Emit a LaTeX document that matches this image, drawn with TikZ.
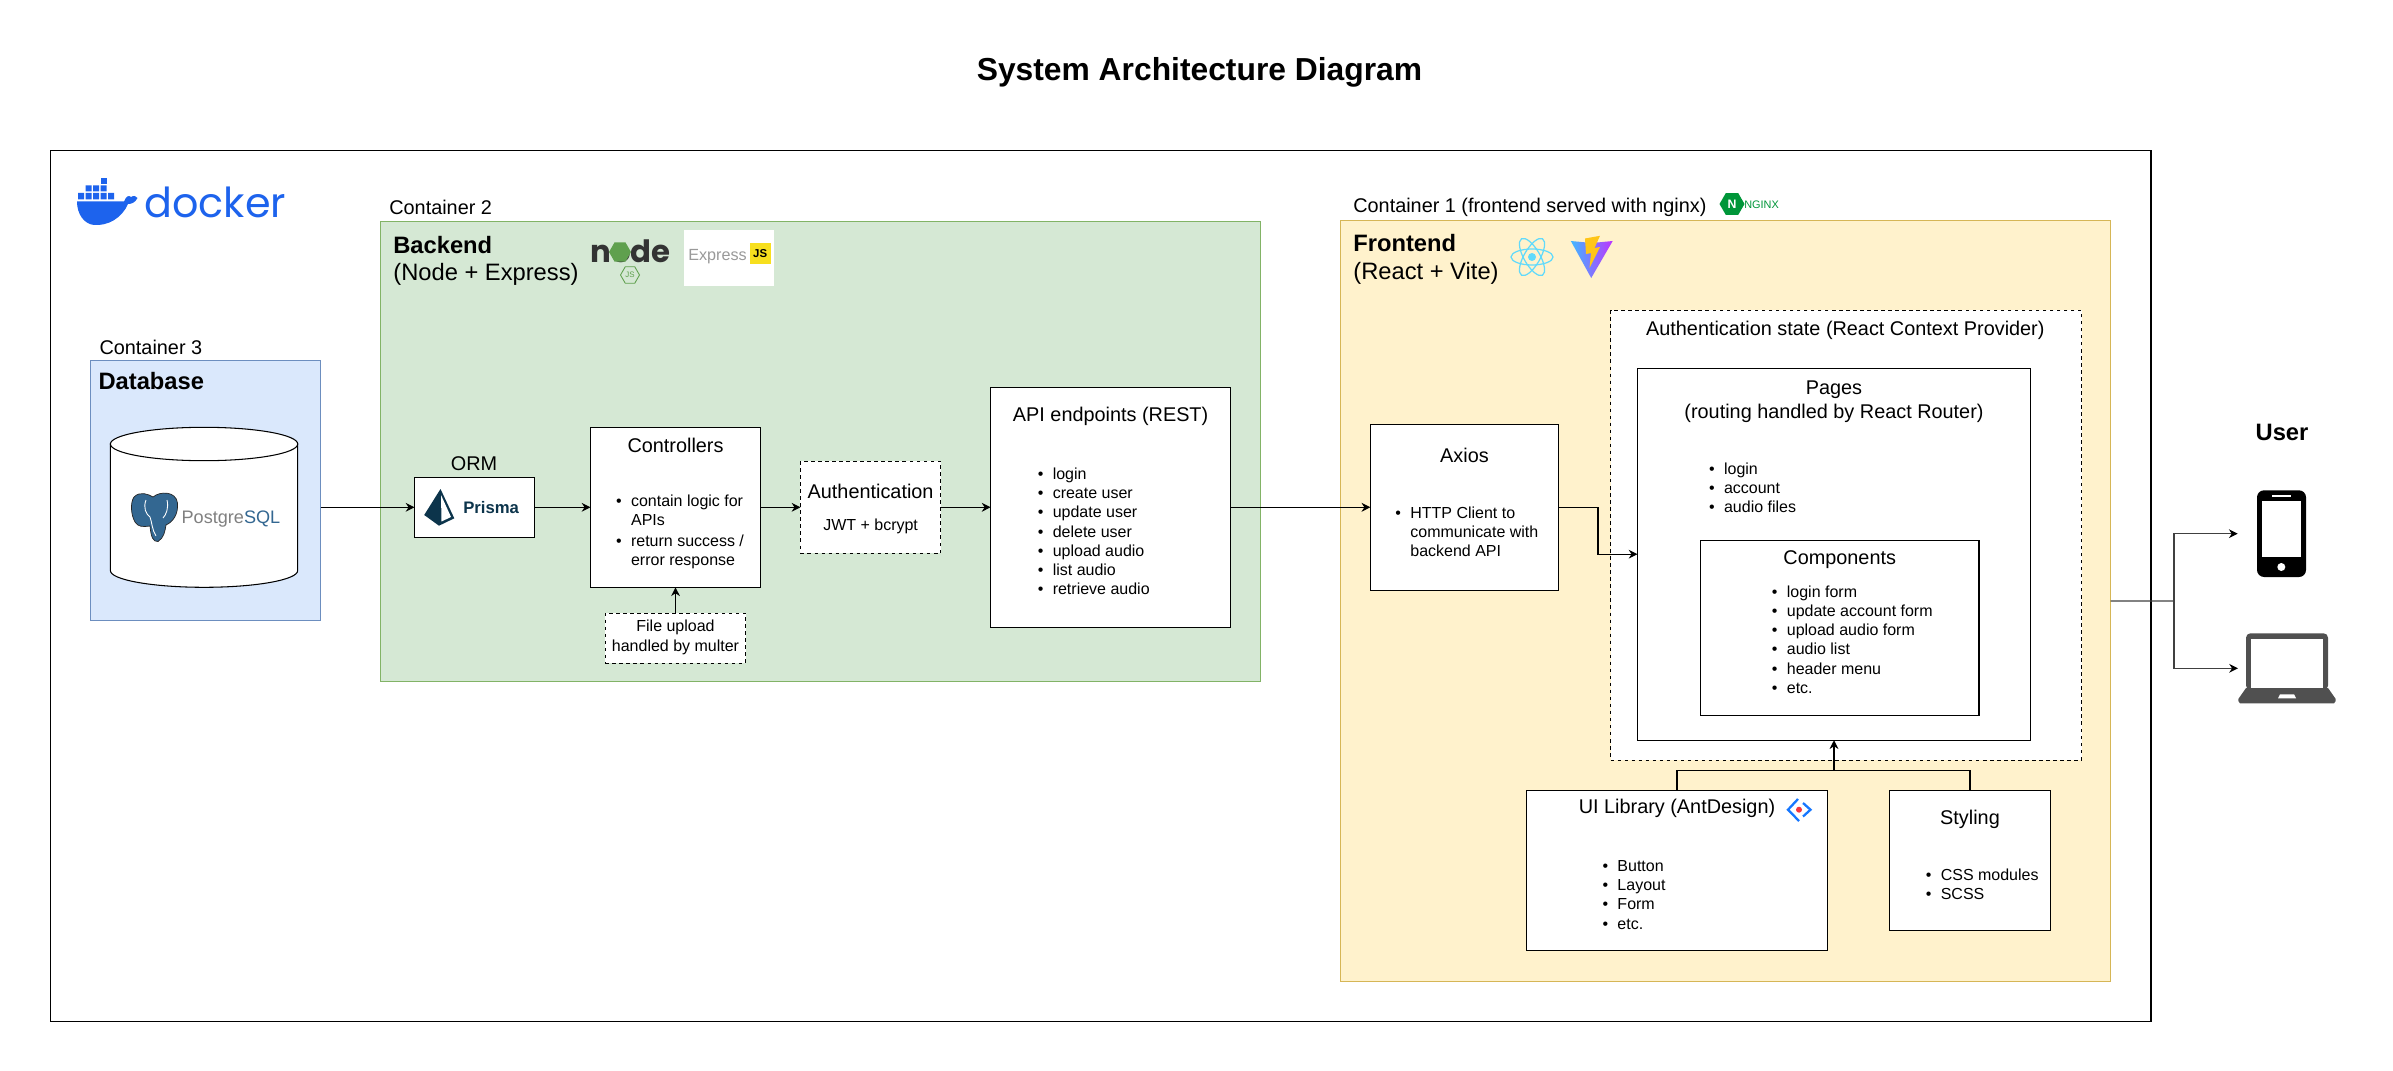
\documentclass[tikz,border=0pt]{standalone}
\usepackage{fontspec}
\setmainfont{Liberation Sans}
\newfontfamily\logofont{Poppins}
\usetikzlibrary{arrows.meta,shapes.geometric}

\definecolor{dbfill}{HTML}{DAE8FC}
\definecolor{dbline}{HTML}{6C8EBF}
\definecolor{backfill}{HTML}{D5E8D4}
\definecolor{backline}{HTML}{82B366}
\definecolor{frontfill}{HTML}{FFF2CC}
\definecolor{frontline}{HTML}{D6B656}
\definecolor{dockerblue}{HTML}{1D63ED}
\definecolor{pgblue}{HTML}{336791}
\definecolor{prismanavy}{HTML}{0C344B}
\definecolor{reactcyan}{HTML}{61DAFB}
\definecolor{nodegreen}{HTML}{5FA04E}
\definecolor{nginxgreen}{HTML}{009639}
\definecolor{jsyellow}{HTML}{F7DF1E}
\definecolor{antblue}{HTML}{1677FF}
\definecolor{antred}{HTML}{F5333F}
\definecolor{laptopgrey}{HTML}{505050}
\definecolor{vitecyan}{HTML}{41B8FF}
\definecolor{vitepurple}{HTML}{BD34FE}
\definecolor{viteyellow}{HTML}{FFC517}

% One unit of the picture is one pixel of the reference
\newcommand{\pxu}{0.02cm}
\newcommand{\itm}{\makebox[8.5pt][l]{\textbullet}}
\newcommand{\nob}{\hspace*{8.5pt}}

\tikzset{
    solidbox/.style 2 args={draw=black, fill=white, line width=0.7pt, outer sep=0pt, inner sep=0pt,
        minimum width=#1*\pxu, minimum height=#2*\pxu},
    dashbox/.style 2 args={solidbox={#1}{#2}, line width=0.55pt, dash pattern=on 2pt off 2pt},
    groupbox/.style n args={4}{draw=#4, fill=#3, line width=0.6pt, outer sep=0pt, inner sep=0pt,
        minimum width=#1*\pxu, minimum height=#2*\pxu},
    spacer/.style 2 args={outer sep=0pt, inner sep=0pt, minimum width=#1*\pxu, minimum height=#2*\pxu},
    titletxt/.style={font=\fontsize{18.1}{22}\selectfont\bfseries},
    headtxt/.style={font=\fontsize{13.5}{16.6}\selectfont\bfseries, inner sep=0pt},
    subtxt/.style={font=\fontsize{13.5}{16.6}\selectfont, inner sep=0pt},
    bodytxt/.style={font=\fontsize{11.3}{13.7}\selectfont, inner sep=0pt, align=center},
    listtxt/.style={font=\fontsize{9.1}{10.85}\selectfont, inner sep=0pt, align=left, anchor=west},
    link/.style={draw=black, line width=0.7pt, -{Stealth[length=5pt,width=5pt,inset=1.6pt]}},
    plainlink/.style={draw=black, line width=0.7pt},
    userlink/.style={draw=black!75, line width=0.7pt},
    userarrow/.style={userlink, -{Stealth[length=5pt,width=5pt,inset=1.6pt,color=black]}},
}

\begin{document}
\begin{tikzpicture}[x=\pxu, y=-\pxu]
    \useasboundingbox (0,0) rectangle (2393,1071);

    % Define the free ends of the connectors
    \coordinate (axiosbend) at (1598,507.3);
    \coordinate (stylebus) at (1834,770.3);
    \coordinate (userfork) at (2174,601);

    % Draw the title and the outer frame
    \node[titletxt] (title) at (1199.5,72.5) {System Architecture Diagram};
    \node[solidbox={2100}{871}, line width=0.9pt] (dockerframe) at (1100.7,585.8) {};

    % Draw the containers
    \node[groupbox={230}{260}{dbfill}{dbline}] (database) at (205.5,490.3) {};
    \node[groupbox={880.3}{460.4}{backfill}{backline}] (backend) at (820.4,451.5) {};
    \node[groupbox={770}{761.2}{frontfill}{frontline}] (frontend) at (1725.6,601.1) {};

    % Place the container labels
    \node[bodytxt, anchor=west] (containerthree) at (99.2,347) {Container 3};
    \node[headtxt, anchor=west] (databasetxt) at (98.2,380.7) {Database};
    \node[bodytxt, anchor=west] (containertwo) at (389,207.3) {Container 2};
    \node[headtxt, anchor=west] (backendtxt) at (393,244.7) {Backend};
    \node[subtxt, anchor=west] (backendsub) at (393,274.5) {(Node + Express)};
    \node[bodytxt, anchor=west] (containerone) at (1353,207) {Container 1 (frontend served with nginx)};
    \node[headtxt, anchor=west] (frontendtxt) at (1353,243.5) {Frontend};
    \node[subtxt, anchor=west] (frontendsub) at (1353,273.8) {(React + Vite)};

    % Draw the database cylinder
    \draw[fill=white, line width=0.6pt] (110.4,444) -- (110.4,570.6)
        arc[start angle=180, end angle=0, x radius=93.65, y radius=16.7] -- (297.7,444) -- cycle;
    \draw[fill=white, line width=0.6pt] (204.05,444) ellipse [x radius=93.65, y radius=16.7];

    % Draw the backend boxes
    \node[solidbox={120}{60}] (prisma) at (474.5,507.3) {};
    \node[solidbox={170}{160}] (controllers) at (675.5,507.3) {};
    \node[dashbox={140.3}{92}] (auth) at (870.6,507.3) {};
    \node[solidbox={240}{240}] (api) at (1110.6,507.3) {};
    \node[dashbox={140.3}{50}] (multer) at (675.5,638) {};

    % Draw the frontend boxes
    \node[solidbox={188.3}{166}] (axios) at (1464.5,507.3) {};
    \node[dashbox={471}{449.6}] (authstate) at (1846,535.2) {};
    \node[solidbox={393}{372}] (pages) at (1834,554.2) {};
    \node[solidbox={278.6}{175}] (components) at (1839.7,627.8) {};
    \node[solidbox={300.3}{160}] (uilib) at (1677,870.3) {};
    \node[solidbox={160.7}{140}] (styling) at (1970,860.3) {};

    % Place the backend labels
    \node[bodytxt] (ormtxt) at (474,463.5) {ORM};
    \node[bodytxt] (controllerstxt) at (675.5,445.3) {Controllers};
    \node[listtxt] at (615.8,531.7) {\itm contain logic for\\[-0.1pt]\nob APIs\\[1pt]\itm return success /\\[-0.1pt]\nob error response};
    \node[bodytxt] (authtxt) at (870.6,491) {Authentication};
    \node[bodytxt, font=\fontsize{9.1}{10.85}\selectfont] (jwttxt) at (870.6,526.7) {JWT + bcrypt};
    \node[bodytxt] (apitxt) at (1110.6,416) {API endpoints (REST)};
    \node[listtxt] at (1037.5,531.3) {\itm login\\\itm create user\\\itm update user\\\itm delete user\\\itm upload audio\\\itm list audio\\\itm retrieve audio};
    \node[bodytxt, font=\fontsize{9.1}{11.4}\selectfont] (multertxt) at (675.5,637.3) {File upload\\handled by multer};

    % Place the frontend labels
    \node[bodytxt] (axiostxt) at (1464.5,455) {Axios};
    \node[listtxt] at (1395.1,531.6) {\itm HTTP Client to\\\nob communicate with\\\nob backend API};
    \node[bodytxt] (authstatetxt) at (1845.3,330) {Authentication state (React Context Provider)};
    \node[bodytxt] (pagestxt) at (1834,401.5) {Pages\\(routing handled by React Router)};
    \node[listtxt] at (1708.8,487.6) {\itm login\\\itm account\\\itm audio files};
    \node[bodytxt] (componentstxt) at (1839.7,559.5) {Components};
    \node[listtxt] at (1771.6,639.7) {\itm login form\\\itm update account form\\\itm upload audio form\\\itm audio list\\\itm header menu\\\itm etc.};
    \node[bodytxt] (uilibtxt) at (1677,808.8) {UI Library (AntDesign)};
    \node[listtxt] at (1602.2,895) {\itm Button\\\itm Layout\\\itm Form\\\itm etc.};
    \node[bodytxt] (stylingtxt) at (1970,819) {Styling};
    \node[listtxt] at (1925.5,884.2) {\itm CSS modules\\\itm SCSS};

    % Draw the connectors
    \draw[link] (database.east |- prisma.west) -- (prisma.west);
    \draw[link] (prisma.east) -- (controllers.west);
    \draw[link] (controllers.east) -- (auth.west);
    \draw[link] (auth.east) -- (api.west);
    \draw[link] (multer.north) -- (controllers.south);
    \draw[link] (api.east) -- (axios.west);
    \draw[link] (axios.east) -- (axiosbend) |- (pages.west);
    \draw[plainlink] (uilib.north) |- (stylebus);
    \draw[plainlink] (styling.north) |- (stylebus);
    \draw[link] (stylebus) -- (pages.south);

    % Draw the user side
    \node[headtxt] (usertxt) at (2282,432.7) {User};
    \node[spacer={88.6}{87}] (phone) at (2282,533.7) {};
    \node[spacer={98}{70}] (laptop) at (2287,668.3) {};
    \draw[userlink] (frontend.east) -- (userfork);
    \draw[userarrow] (userfork) |- (phone.west);
    \draw[userarrow] (userfork) |- (laptop.west);

    % Draw the phone
    \fill[black, rounded corners=4pt] (2257,490.3) rectangle (2306,577);
    \fill[white] (2261.7,501) rectangle (2301.3,557);
    \fill[white] (2271.7,494.7) rectangle (2291.3,497.3);
    \fill[white] (2281.3,567) circle (4);

    % Draw the laptop
    \fill[laptopgrey] (2246,688) -- (2328,688) -- (2335.7,699) -- (2335.7,701) -- (2334,703.3)
        -- (2240,703.3) -- (2238.3,701) -- (2238.3,699) -- cycle;
    \fill[laptopgrey, rounded corners=2.5pt] (2246,633.3) rectangle (2328,690);
    \fill[white] (2251,639.3) rectangle (2323.3,688);
    \fill[white] (2278,698.3) -- (2280,694.3) -- (2294,694.3) -- (2296,698.3) -- cycle;

    % Draw the docker logo
    \fill[dockerblue] (77,201.5) -- (124,201.5) .. controls (126,196) and (129,195) .. (131,197)
        .. controls (134,195) and (136,196) .. (137.5,198) .. controls (135,203) and (131,204) .. (128,204)
        .. controls (122,218) and (108,226) .. (94,225) .. controls (84,224) and (77,214) .. (77,201.5) -- cycle;
    \fill[dockerblue] (78,193) rectangle (84,199.5) (85.5,193) rectangle (91.5,199.5) (93,193) rectangle (99,199.5)
        (100.5,193) rectangle (106.5,199.5) (108,193) rectangle (114,199.5);
    \fill[dockerblue] (85.5,185.5) rectangle (91.5,191.5) (93,185.5) rectangle (99,191.5) (100.5,185.5) rectangle (106.5,191.5);
    \fill[dockerblue] (100.5,178) rectangle (106.5,184);
    \node[inner sep=0pt, anchor=west, text=dockerblue, font=\logofont\fontsize{23.5}{24}\selectfont] (dockertxt) at (144,202) {docker};

    % Draw the node logo
    \node[inner sep=0pt, anchor=base, text=black!80, font=\logofont\bfseries\fontsize{17.5}{18}\selectfont] (nodetxt) at (630.5,262) {node};
    \node[regular polygon, regular polygon sides=6, fill=nodegreen, inner sep=0pt, minimum size=22*\pxu] (nodehex) at (620,252) {};
    \node[regular polygon, regular polygon sides=6, draw=nodegreen, line width=0.5pt, inner sep=0pt, minimum size=19*\pxu,
        text=nodegreen, font=\fontsize{4.5}{5}\selectfont] (jshex) at (630,275) {JS};

    % Draw the express logo
    \fill[white] (683.9,230) rectangle (774.2,286);
    \node[inner sep=0pt, anchor=west, text=black!40, font=\fontsize{9.2}{10}\selectfont] (expresstxt) at (688,257) {Express};
    \node[fill=jsyellow, minimum width=21*\pxu, minimum height=21*\pxu, inner sep=0pt, font=\fontsize{6.5}{7}\selectfont\bfseries] (expressjs) at (760.2,253.4) {JS};

    % Draw the postgres logo
    \filldraw[fill=pgblue, draw=black!85, line width=0.4pt] (134,497) .. controls (140,491) and (148,494) .. (153,497)
        .. controls (160,491) and (176,491) .. (177.5,503) .. controls (178.5,514) and (173,522) .. (166,525)
        .. controls (165,531) and (164,538) .. (158,541.5) .. controls (153,542) and (151,537) .. (150,526)
        .. controls (143,527) and (138,527) .. (135,522) .. controls (131,515) and (130,503) .. (134,497) -- cycle;
    \draw[white, line width=0.5pt] (146,500) .. controls (143,508) and (146,514) .. (150,517) .. controls (152,522) and (152,530) .. (156,536);
    \draw[white, line width=0.5pt] (167,500) .. controls (169,508) and (166,515) .. (163,518);
    \node[inner sep=0pt, anchor=base west, font=\fontsize{10.3}{11}\selectfont] (pgtxt) at (181.3,523) {\textcolor{black!50}{Postgre}\textcolor{pgblue}{SQL}};

    % Draw the prisma logo
    \fill[prismanavy] (440.5,489) -- (454.3,518.3) -- (439,525.7) -- (424.2,515) -- cycle;
    \fill[white] (441,495) -- (451,517) -- (441.5,521.5) -- cycle;
    \node[inner sep=0pt, anchor=west, text=prismanavy, font=\fontsize{9.5}{10}\selectfont\bfseries] (prismatxt) at (463,508) {Prisma};

    % Draw the react logo
    \coordinate (react) at (1532,257);
    \draw[reactcyan, line width=0.7pt] (react) ellipse [x radius=21, y radius=8];
    \draw[reactcyan, line width=0.7pt, rotate around={60:(react)}] (react) ellipse [x radius=21, y radius=8];
    \draw[reactcyan, line width=0.7pt, rotate around={120:(react)}] (react) ellipse [x radius=21, y radius=8];
    \fill[reactcyan] (react) circle (4);

    % Draw the vite logo
    \shade[left color=vitecyan, right color=vitepurple] (1570.8,241) -- (1592,243) -- (1612.7,241) -- (1591.2,278) -- cycle;
    \fill[viteyellow] (1600,235.8) -- (1585,238.5) -- (1586,254) -- (1591,253) -- (1589.5,268) -- (1600,247) -- (1594.5,248) -- cycle;

    % Draw the nginx logo
    \node[regular polygon, regular polygon sides=6, fill=nginxgreen, inner sep=0pt, minimum size=25*\pxu,
        text=white, font=\fontsize{7}{7}\selectfont\bfseries] (nginxhex) at (1732,204) {N};
    \node[inner sep=0pt, anchor=west, text=nginxgreen, font=\fontsize{6.2}{7}\selectfont] (nginxtxt) at (1744,204.4) {NGINX};

    % Draw the antdesign logo
    \draw[antblue, line width=1.3pt] (1798,799) -- (1788,809.7) -- (1799,821);
    \draw[antblue, line width=1.3pt] (1803,803) -- (1810.5,809.7) -- (1803,816.5);
    \fill[antred] (1799,809.7) circle (3);
\end{tikzpicture}
\end{document}
